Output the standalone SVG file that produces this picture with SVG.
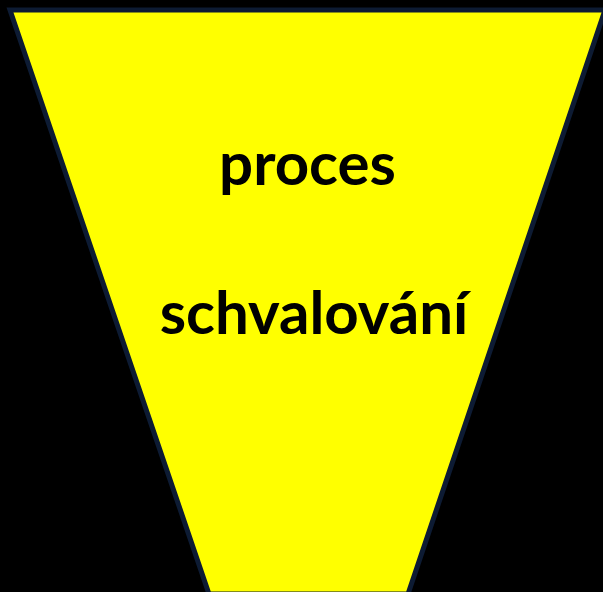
<svg xmlns="http://www.w3.org/2000/svg" width="603" height="592" viewBox="0 0 603 592">
<style>
.lbl{font-family:Lato,"Liberation Sans",sans-serif;font-weight:bold;font-size:60px;fill:#000;text-anchor:middle}
</style>
<rect x="0" y="0" width="603" height="592" fill="#000"/>
<g id="funnel">
<polygon points="10,10 605,10 408,594 209,594" fill="#ffff00" stroke="#0d1b33" stroke-width="5" stroke-linejoin="miter"/>
<text class="lbl" x="307.5" y="185">proces</text>
<text class="lbl" x="314" y="334">schvalování</text>
</g>
</svg>
